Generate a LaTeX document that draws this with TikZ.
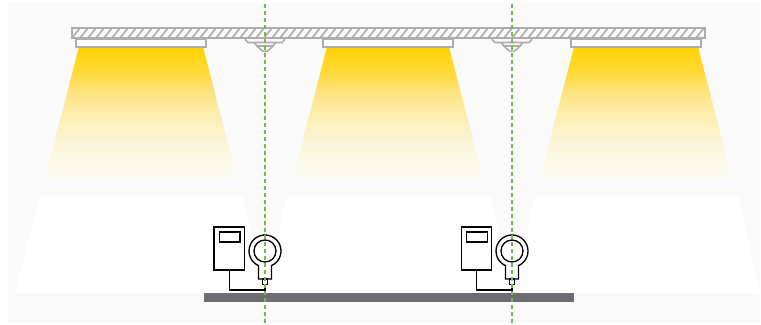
\documentclass[tikz,border=0pt]{standalone}
\usepackage{xcolor}
\usepackage{tikz}
\usetikzlibrary{positioning}
\definecolor{roomGray}{HTML}{FAFAFA}
\definecolor{fixGray}{HTML}{ADADAD}
\definecolor{floorGray}{HTML}{6D6C72}
\definecolor{beamA}{HTML}{FFD200}
\definecolor{beamB}{HTML}{FFD93A}
\definecolor{beamC}{HTML}{FEE27A}
\definecolor{beamD}{HTML}{FDEBA0}
\definecolor{beamE}{HTML}{FCF0BC}
\definecolor{beamF}{HTML}{FBF4D4}
\definecolor{beamG}{HTML}{FBF9E4}
\definecolor{beamH}{HTML}{FAFAF3}
\definecolor{axisGreen}{HTML}{6CBE45}
\pgfdeclareverticalshading{lampbeam}{100bp}{
  color(0bp)=(beamH); color(25bp)=(beamH); color(33bp)=(beamG); color(39.5bp)=(beamF);
  color(46bp)=(beamE); color(52.1bp)=(beamD); color(58.6bp)=(beamC); color(65.1bp)=(beamB);
  color(75bp)=(beamA); color(100bp)=(beamA)}
\tikzset{
  pool/.style={fill=white, draw=none},
  beam/.style={shading=lampbeam, draw=none},
  fixture/.style={draw=fixGray, line width=0.5mm},
  sensor/.style={draw=fixGray, line width=0.4mm},
  lamp/.style={fixture, fill=white},
  hatch/.style={draw=fixGray, line width=0.42mm},
  worktop/.style={fill=floorGray, draw=none},
  meter box/.style={draw=black, line width=0.33mm, fill=white, inner sep=0pt, outer sep=0pt,
    minimum width=7.6mm, minimum height=10.75mm},
  meter screen/.style={draw=black, line width=0.3mm, fill=white, inner sep=0pt, outer sep=0pt,
    minimum width=5.1mm, minimum height=2.5mm},
  instrument/.style={draw=black, line width=0.33mm},
  probe tip/.style={draw=black, line width=0.28mm, fill=white, inner sep=0pt, outer sep=0pt,
    minimum width=1.15mm, minimum height=1.4mm},
  cable/.style={draw=black, line width=0.3mm},
  axis line/.style={draw=axisGreen, line width=0.33mm, dash pattern=on 1.1mm off 0.65mm}
}
\begin{document}
\begin{tikzpicture}[x=0.25mm,y=-0.25mm]
  \useasboundingbox (0,0) rectangle (761,325);
  \fill[roomGray] (8,3) rectangle (760,323);

  % light pools on the floor
  \fill[pool] (40,196) -- (242,196) -- (267,293) -- (15,293) -- cycle;
  \fill[pool] (287,196) -- (490,196) -- (515,293) -- (265,293) -- cycle;
  \fill[pool] (535,196) -- (738,196) -- (760,293) -- (513,293) -- cycle;

  % beams
  \shade[beam] (79,47) -- (203,47) -- (237,178) -- (45,178) -- cycle;
  \shade[beam] (327,47) -- (449,47) -- (483,178) -- (293,178) -- cycle;
  \shade[beam] (574,47) -- (698,47) -- (732,178) -- (540,178) -- cycle;

  % ceiling
  \begin{scope}
    \clip (72,28) rectangle (705,38);
    \foreach \hx in {64,72,...,712} {
      \draw[hatch] (\hx,38) -- (\hx+8,28);
    }
  \end{scope}
  \draw[fixture] (72,28) rectangle (705,38);

  % luminaires
  \draw[lamp] (76,39) rectangle (206,47);
  \draw[lamp] (323,39) rectangle (453,47);
  \draw[lamp] (571,39) rectangle (701,47);

  % ceiling sensors
  \draw[sensor] (245.5,38) -- (245.5,40) -- (248,42.5) -- (282,42.5) -- (284.5,40) -- (284.5,38);
  \draw[sensor] (254,42.5) -- (259,48) .. controls (261,50.5) and (263,51.5) .. (265,51.5)
    .. controls (267,51.5) and (269,50.5) .. (271,48) -- (276,42.5);
  \draw[sensor] (256,46) -- (274,46);
  \draw[sensor] (492.5,38) -- (492.5,40) -- (495,42.5) -- (529,42.5) -- (531.5,40) -- (531.5,38);
  \draw[sensor] (501,42.5) -- (506,48) .. controls (508,50.5) and (510,51.5) .. (512,51.5)
    .. controls (514,51.5) and (516,50.5) .. (518,48) -- (523,42.5);
  \draw[sensor] (503,46) -- (521,46);

  % worktop
  \fill[worktop] (203.5,292.5) rectangle (574,301.5);

  % first instrument
  \node[meter box] (meterA) at (229.25,248.5) {};
  \node[meter screen] (screenA) at (229.75,237) {};
  \draw[instrument, fill=white] (258.5,279) -- (258.5,265.6) arc[start angle=114, end angle=426, radius=16]
    -- (271.5,279) -- cycle;
  \node[probe tip] (tipA) at (265,281.8) {};
  \coordinate (bendA) at (265,290);
  \draw[cable] (meterA.south) |- (bendA) -- (tipA.south);
  \draw[instrument, fill=white] (265,251) circle[radius=11];

  % second instrument
  \node[meter box] (meterB) at (476.5,248.5) {};
  \node[meter screen] (screenB) at (477,237) {};
  \draw[instrument, fill=white] (505.5,279) -- (505.5,265.6) arc[start angle=114, end angle=426, radius=16]
    -- (518.5,279) -- cycle;
  \node[probe tip] (tipB) at (512,281.8) {};
  \coordinate (bendB) at (512,290);
  \draw[cable] (meterB.south) |- (bendB) -- (tipB.south);
  \draw[instrument, fill=white] (512,251) circle[radius=11];

  % axes
  \draw[axis line] (265,4) -- (265,325);
  \draw[axis line] (512,4) -- (512,325);
\end{tikzpicture}
\end{document}
